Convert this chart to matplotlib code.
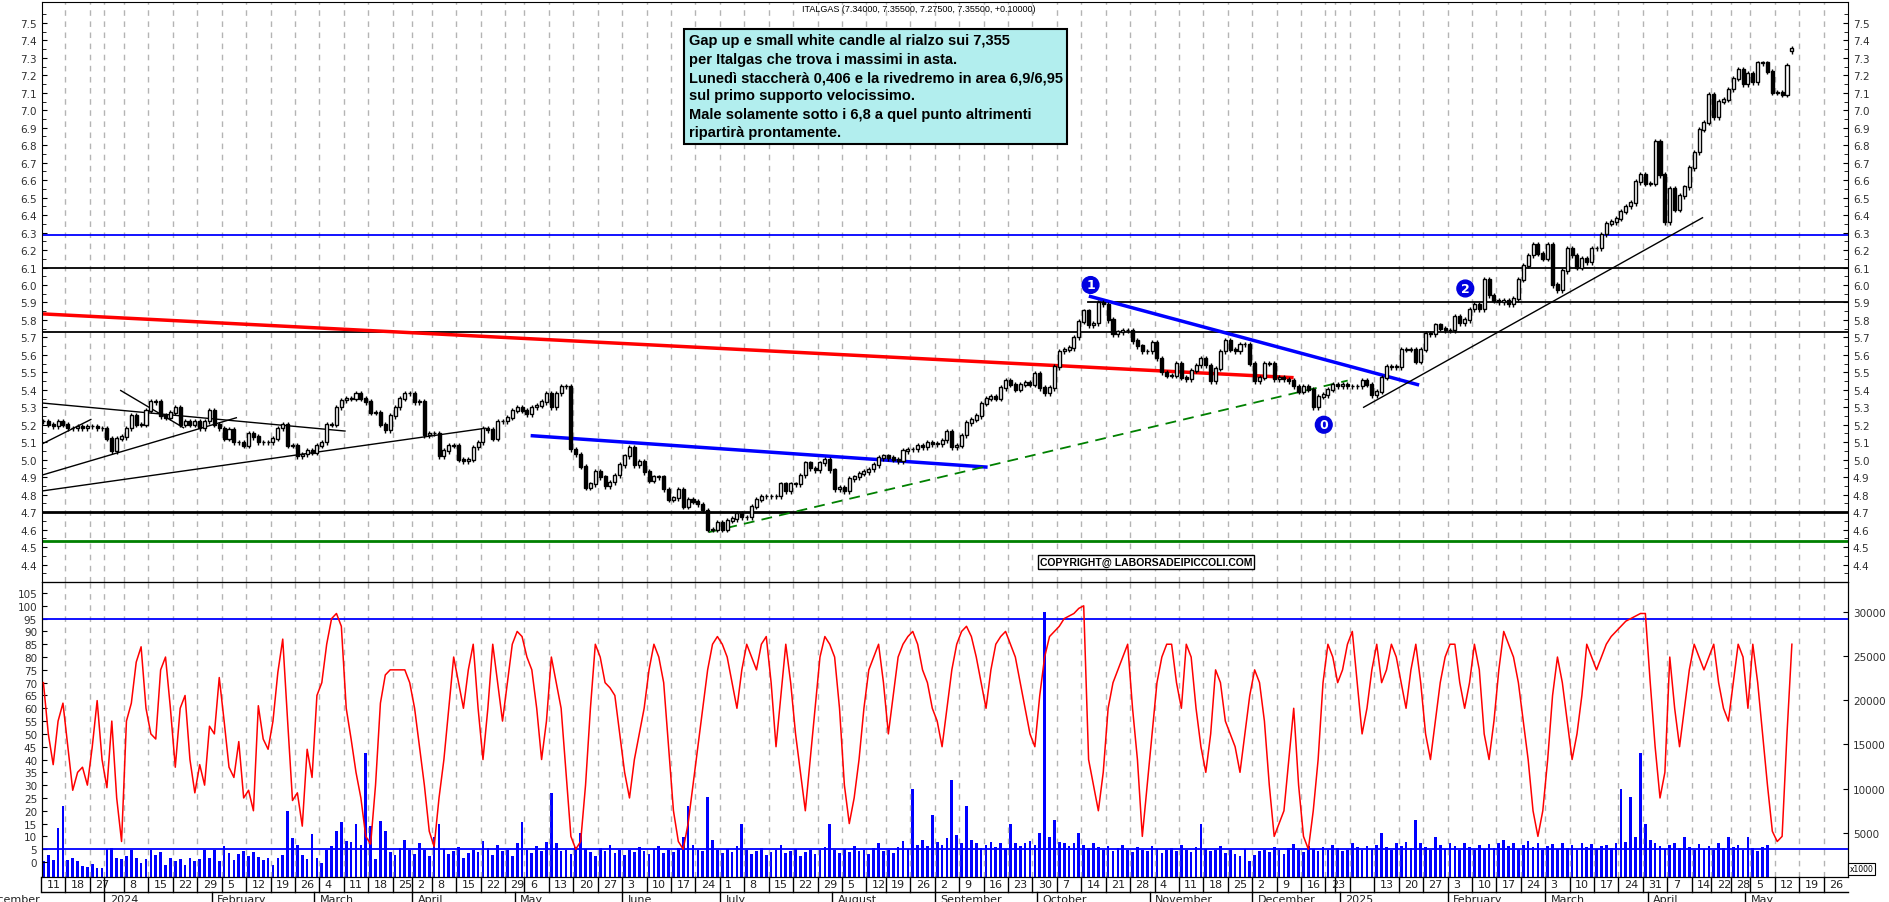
import numpy as np
import pandas as pd
import matplotlib
matplotlib.use('Agg')
import matplotlib.pyplot as plt

# ---- data ----
holidays = ['2023-12-25', '2023-12-26', '2024-01-01', '2024-03-29', '2024-04-01',
            '2024-05-01', '2024-08-15', '2024-12-24', '2024-12-25', '2024-12-26',
            '2024-12-31', '2025-01-01', '2025-04-18', '2025-04-21', '2025-05-01']

close_dec_apr = [5.22, 5.20, 5.19, 5.22, 5.20, 5.18, 5.18, 5.19, 5.18, 5.19,
                 5.19, 5.18, 5.18, 5.12, 5.05, 5.12, 5.13, 5.18, 5.25, 5.20,
                 5.20, 5.28, 5.33, 5.33, 5.25, 5.24, 5.27, 5.30, 5.20, 5.22,
                 5.20, 5.22, 5.18, 5.22, 5.28, 5.20, 5.18, 5.12, 5.17, 5.10,
                 5.10, 5.08, 5.15, 5.13, 5.10, 5.10, 5.10, 5.12, 5.18, 5.20,
                 5.08, 5.08, 5.02, 5.03, 5.05, 5.04, 5.08, 5.10, 5.20, 5.20,
                 5.30, 5.34, 5.35, 5.35, 5.38, 5.35, 5.33, 5.27, 5.27, 5.20,
                 5.17, 5.25, 5.30, 5.35, 5.38, 5.38, 5.33, 5.33, 5.14, 5.15,
                 5.15, 5.02, 5.05, 5.08, 5.08, 5.00, 4.99, 5.00, 5.07, 5.10,
                 5.18, 5.17, 5.12]
close_may = [5.22, 5.22, 5.24, 5.28, 5.30, 5.28, 5.26, 5.30, 5.31, 5.33,
             5.38, 5.30, 5.38, 5.42, 5.42]
close_jun_sep = [5.06, 5.03, 4.96, 4.84, 4.86, 4.93, 4.90, 4.85, 4.87, 4.91,
                 4.97, 5.02, 5.07, 4.97, 4.99, 4.93, 4.88, 4.90, 4.90, 4.83,
                 4.77, 4.78, 4.83, 4.73, 4.77, 4.76, 4.745, 4.71, 4.60, 4.60,
                 4.64, 4.60, 4.65, 4.66, 4.69, 4.67, 4.67, 4.73, 4.77, 4.79,
                 4.79, 4.79, 4.79, 4.86, 4.82, 4.86, 4.86, 4.91, 4.98, 4.95,
                 4.94, 4.98, 5.00, 4.94, 4.83, 4.84, 4.82, 4.89, 4.90, 4.92,
                 4.93, 4.945, 4.97, 5.01, 5.02, 5.01, 5.00, 4.99, 5.05, 5.06,
                 5.06, 5.08, 5.07, 5.10, 5.09, 5.09, 5.11, 5.16, 5.07, 5.08,
                 5.14, 5.21, 5.23, 5.25, 5.32, 5.35, 5.36, 5.35, 5.41, 5.45,
                 5.43, 5.40, 5.43, 5.44, 5.43, 5.49]
close_oct_jan = [5.41, 5.38, 5.41, 5.53, 5.62, 5.63, 5.64, 5.70, 5.79, 5.85,
                 5.77, 5.78, 5.90, 5.89, 5.80, 5.72, 5.73, 5.74, 5.74, 5.68,
                 5.65, 5.62, 5.62, 5.67, 5.58, 5.50, 5.48, 5.48, 5.55, 5.47,
                 5.46, 5.51, 5.54, 5.58, 5.54, 5.45, 5.52, 5.62, 5.68, 5.63,
                 5.62, 5.66, 5.66, 5.55, 5.45, 5.47, 5.55, 5.55, 5.46, 5.47,
                 5.46, 5.45, 5.42, 5.39, 5.42, 5.40, 5.30, 5.36, 5.37, 5.40,
                 5.43, 5.42, 5.43, 5.42, 5.42, 5.42, 5.45, 5.43, 5.37, 5.39,
                 5.47, 5.53, 5.53, 5.53, 5.63, 5.63, 5.63, 5.56, 5.63, 5.72,
                 5.72, 5.77, 5.75, 5.74, 5.74, 5.82]
close_feb_may = [5.78, 5.80, 5.86, 5.89, 5.86, 6.03, 5.94, 5.91, 5.90, 5.91,
                 5.89, 5.92, 6.03, 6.11, 6.17, 6.23, 6.18, 6.15, 6.23, 6.00,
                 5.97, 6.08, 6.21, 6.17, 6.10, 6.15, 6.13, 6.21, 6.21, 6.29,
                 6.35, 6.36, 6.38, 6.42, 6.45, 6.47, 6.59, 6.63, 6.58, 6.58,
                 6.82, 6.63, 6.36, 6.55, 6.43, 6.51, 6.56, 6.67, 6.76, 6.89,
                 6.93, 7.09, 6.96, 7.05, 7.06, 7.12, 7.18, 7.23, 7.15, 7.21,
                 7.16, 7.27, 7.27, 7.22, 7.10, 7.10, 7.09, 7.255, 7.355]

stoch_a = [70, 50, 38, 55, 62, 45, 28, 35, 37, 30, 45, 63, 40, 29, 55, 25, 8, 55, 62, 78,
           84, 60, 50, 48, 75, 80, 60, 37, 60, 65, 40, 27, 38, 30, 53, 50, 72, 55, 37, 33,
           47, 25, 28, 20, 61, 48, 44, 55, 74, 87, 55, 24, 27, 14, 44, 33, 65, 70, 85, 95,
           97, 92, 60, 48, 35, 25, 10, 7, 30, 62, 73, 75, 75]
stoch_b = [75, 75, 70, 60, 45, 30, 12, 6, 25, 40, 60, 80, 70, 60, 75,
           85, 60, 40, 60, 85, 70, 55, 70, 85, 90, 88, 80, 75, 60, 40,
           55, 80, 70, 60, 35, 10, 5, 8, 30, 60, 85, 80, 70, 68, 65,
           50, 35, 25, 40, 50, 60, 75, 85, 80, 70, 45, 20, 8, 5, 15,
           30, 45, 60, 75, 85, 88, 85, 80, 70, 60, 75, 85, 80, 75, 85,
           88, 70, 45, 65, 85, 70, 50, 35, 20, 40, 60, 80, 88, 85, 80,
           60, 30, 15, 25, 40, 60, 75, 80, 85, 70, 50, 65, 80, 85, 88,
           90, 85, 75, 70, 60, 55, 45, 60, 75, 85, 90, 92, 88, 80, 70,
           60, 75, 85, 88, 90, 85, 80, 70, 60, 50, 45, 65, 80, 88, 90,
           92, 95, 96, 97, 99, 100, 40, 30, 20, 35, 60, 70, 75, 80, 85,
           60, 40, 10, 30, 50, 70, 80, 85, 85, 70, 60, 85, 80, 60, 45,
           35, 50, 75, 70, 55]
stoch_c = [50, 45, 35, 50, 65, 75, 70, 55, 30, 10, 15, 20, 40, 60, 30, 10,
           5, 20, 40, 70, 85, 80, 70, 75, 85, 90, 70, 50, 60, 75, 85, 70,
           75, 85, 80, 70, 60, 75, 85, 70, 50, 40, 55, 70, 80, 85, 85, 70,
           60, 70, 85, 75, 50, 40, 55, 75, 90, 85, 80, 70, 55, 40, 20, 10,
           20, 40, 65, 80, 70, 55, 40, 50, 65, 85, 80, 75, 80, 85, 88, 90,
           92, 94, 95, 96, 97, 97, 70, 45, 25, 35, 80, 60, 45, 60, 75, 85,
           80, 75, 80, 85, 70, 60, 55, 70, 85, 80, 60, 85, 70, 50, 30, 12, 8, 10, 50, 85]

# volume in thousands
volume = [1.8, 2.5, 1.9, 5.5, 8.0, 1.9, 2.2, 1.8, 1.2, 1.1, 1.5, 1.0, 1.0, 3.2, 3.3, 2.2, 2.0, 2.4, 3.1, 2.1,
          1.6, 2.0, 3.1, 2.5, 2.8, 1.3, 2.1, 1.8, 2.0, 1.4, 2.2, 1.8, 2.0, 3.0, 2.2, 3.1, 1.8, 3.5, 2.7, 1.9,
          2.6, 2.9, 2.4, 2.8, 2.3, 1.9, 2.1, 1.4, 2.1, 2.5, 7.5, 4.4, 3.6, 2.5, 2.0, 4.9, 2.2, 1.6, 3.1, 3.5,
          5.2, 6.2, 4.1, 4.0, 6.0, 3.6, 14.0, 5.8, 2.0, 6.3, 5.2, 2.8, 2.5, 3.3, 4.2, 3.1, 2.6, 3.9, 3.0, 2.4,
          4.5, 6.0, 3.2, 2.6, 2.9, 3.4, 2.2, 2.7, 3.0, 2.8, 4.1, 3.3, 2.5, 3.6, 2.9, 3.1, 2.4, 3.8, 6.2, 3.0,
          2.7, 3.5, 2.9, 4.0, 9.5, 3.8, 2.9, 3.1, 2.6, 3.4, 5.0, 3.2, 2.8, 2.4, 3.3, 2.9, 3.6, 2.7, 3.0, 2.5,
          3.1, 2.8, 3.4, 2.9, 2.6, 3.2, 3.5, 2.7, 3.0, 2.8, 3.3, 4.5, 8.0, 3.6, 3.1, 2.9, 9.0, 4.2, 3.0, 2.7,
          3.2, 2.8, 3.5, 6.0, 3.1, 2.6, 2.9, 3.3, 2.5, 2.8, 3.0, 3.6, 2.7, 2.9, 3.2, 2.4, 2.8, 3.1, 2.6, 3.0,
          3.4, 6.0, 3.0, 2.7, 3.2, 2.8, 3.5, 2.9, 3.1, 2.6, 3.3, 3.8, 2.9, 3.1, 2.7, 3.4, 4.1, 3.2, 10.0, 3.6,
          4.2, 3.5, 7.0, 4.0, 3.6, 4.4, 11.0, 4.8, 3.9, 8.0, 4.2, 3.8, 3.3, 3.6, 4.0, 3.4, 3.8, 3.2, 6.0, 3.9,
          3.5, 3.9, 4.1, 3.6, 5.0, 30.0, 4.5, 6.5, 4.0, 3.8, 3.5, 3.9, 5.0, 3.6, 3.3, 3.8, 3.4, 3.1, 3.5, 2.9,
          3.3, 3.6, 3.0, 2.8, 3.4, 3.1, 2.9, 3.5, 3.2, 2.7, 3.0, 3.3, 2.9, 3.6, 3.1, 2.8, 3.4, 6.0, 3.2, 2.9,
          3.0, 3.5, 2.7, 3.1, 2.6, 2.4, 3.2, 1.8, 2.5, 2.9, 3.1, 2.8, 3.4, 3.0, 2.6, 3.3, 3.7, 3.1, 2.8, 3.5,
          3.2, 2.9, 3.4, 3.0, 3.6, 3.3, 2.9, 3.1, 3.8, 3.4, 3.0, 3.5, 3.2, 3.6, 5.0, 3.4, 3.1, 3.8, 3.5, 4.0,
          3.3, 6.5, 3.9, 3.4, 3.1, 4.5, 3.6, 3.2, 3.8, 3.5, 3.1, 3.9, 3.4, 3.0, 3.6, 3.2, 3.7, 3.3, 3.9, 4.2,
          3.5, 3.8, 3.2, 3.6, 4.1, 3.4, 3.9, 3.0, 3.5, 3.7, 3.2, 3.8, 3.3, 3.6, 3.1, 3.9, 3.4, 3.7, 3.2, 3.5,
          3.6, 3.3, 3.8, 10.0, 4.0, 9.0, 4.5, 14.0, 6.0, 4.2, 3.8, 3.5, 3.2, 3.6, 3.9, 3.3, 4.5, 3.4, 3.1, 3.7,
          3.2, 3.5, 3.0, 3.8, 3.3, 4.5, 3.4, 3.6, 3.1, 4.5, 3.3, 2.9, 3.4, 3.6]

price_levels = [(6.285, 'blue', 1.3), (6.10, 'black', 1.3), (5.73, 'black', 1.3),
                (4.70, 'black', 2.0), (4.535, 'green', 2.0)]

note = ("Gap up e small white candle al rialzo sui 7,355\n"
        "per Italgas che trova i massimi in asta.\n"
        "Lunedì staccherà 0,406 e la rivedremo in area 6,9/6,95\n"
        "sul primo supporto velocissimo.\n"
        "Male solamente sotto i 6,8 a quel punto altrimenti\n"
        "ripartirà prontamente.")

months_en = ['January', 'February', 'March', 'April', 'May', 'June', 'July',
             'August', 'September', 'October', 'November', 'December']


def px2day(xpx):
    # pixel column of the reference -> trading-day index
    return (xpx - 42) / 4.9 - 0.5


def main():
    close = np.array(close_dec_apr + close_may + close_jun_sep + close_oct_jan + close_feb_may)
    stoch = np.array(stoch_a + stoch_b + stoch_c)
    vol = np.array(volume)
    n = len(close)
    idx = np.arange(n)
    opn = np.concatenate([[close[0]], close[:-1]])
    opn[-1] = 7.34
    hi = np.maximum(opn, close) + 0.015
    lo = np.minimum(opn, close) - 0.015

    dates = pd.bdate_range('2023-12-11', '2025-05-30', freq='C', holidays=holidays)
    nd = len(dates)

    fig = plt.figure(figsize=(18.9, 9.03), dpi=100)
    ax = fig.add_axes([0.0222, 0.3544, 0.9556, 0.6423])
    ax2 = fig.add_axes([0.0222, 0.0277, 0.9556, 0.3267])
    axv = ax2.twinx()

    # week gridlines
    wk = pd.Series(dates.isocalendar().week.values)
    week_start = [i for i in range(nd) if i == 0 or wk[i] != wk[i - 1]]
    for a in (ax, ax2):
        for i in week_start:
            a.axvline(i - 0.5, color='#b4b4b4', ls=(0, (4, 4)), lw=1, zorder=0)

    # candles
    up = close >= opn
    ax.vlines(idx, lo, hi, color='black', lw=1, zorder=3)
    ax.bar(idx[up], (close - opn)[up] + 0.004, bottom=opn[up], width=0.62,
           color='white', edgecolor='black', lw=1, zorder=4)
    ax.bar(idx[~up], (opn - close)[~up] + 0.004, bottom=close[~up], width=0.62,
           color='black', edgecolor='black', lw=1, zorder=4)

    for y, c, w in price_levels:
        ax.axhline(y, color=c, lw=w, zorder=2)
    ax.plot([px2day(1092), nd], [5.905, 5.905], color='black', lw=1.3, zorder=2)

    # trendlines
    ax.plot([px2day(42), px2day(1297)], [5.835, 5.47], color='red', lw=2.5, zorder=2)
    ax.plot([px2day(535), px2day(990)], [5.137, 4.958], color='blue', lw=2.5, zorder=2)
    ax.plot([px2day(1095), px2day(1423)], [5.934, 5.43], color='blue', lw=2.5, zorder=2)
    ax.plot([px2day(712), px2day(1353)], [4.585, 5.453], color='green', lw=1.3,
            ls=(0, (6, 4)), zorder=2)
    ax.plot([px2day(1369), px2day(1709)], [5.30, 6.385], color='black', lw=1, zorder=2)
    ax.plot([px2day(42), px2day(347)], [5.325, 5.164], color='black', lw=1, zorder=2)
    ax.plot([px2day(42), px2day(92)], [5.087, 5.23], color='black', lw=1, zorder=2)
    ax.plot([px2day(122), px2day(185)], [5.396, 5.183], color='black', lw=1, zorder=2)
    ax.plot([px2day(42), px2day(238)], [4.91, 5.24], color='black', lw=1, zorder=2)
    ax.plot([px2day(42), px2day(488)], [4.82, 5.18], color='black', lw=1, zorder=2)

    for xpx, yv, lab in [(1095, 6.0, '1'), (1329, 5.20, '0'), (1471, 5.98, '2')]:
        ax.text(px2day(xpx), yv, lab, color='white', fontsize=9, fontweight='bold',
                ha='center', va='center', zorder=6,
                bbox=dict(boxstyle='circle,pad=0.15', fc='#0000e0', ec='#0000e0'))

    ax.text(0.358, 0.946, note, transform=ax.transAxes, ha='left', va='top',
            fontsize=10.5, fontweight='bold', family='Liberation Sans', linespacing=1.4,
            zorder=7, bbox=dict(boxstyle='square,pad=0.3', fc='#b2eeee', ec='black', lw=1.5))
    ax.text(0.5525, 0.0345, 'COPYRIGHT@ LABORSADEIPICCOLI.COM', transform=ax.transAxes,
            fontsize=7.5, fontweight='bold', family='Liberation Sans', ha='left', va='center',
            zorder=7, bbox=dict(boxstyle='square,pad=0.2', fc='white', ec='black', lw=1))
    fig.text(0.486, 0.99, 'ITALGAS (7.34000, 7.35500, 7.27500, 7.35500, +0.10000)',
             fontsize=6.5, ha='center', va='center', family='Liberation Sans')

    ax.set_ylim(4.31, 7.62)
    ax.set_yticks(np.arange(4.4, 7.55, 0.1))
    ax.set_yticks(np.arange(4.3, 7.6, 0.05), minor=True)
    ax.yaxis.set_major_formatter(matplotlib.ticker.FormatStrFormatter('%.1f'))
    ax.tick_params(axis='y', which='both', left=True, right=True, labelleft=True,
                   labelright=True, labelsize=7.5, labelcolor='#303030', direction='in')
    ax.tick_params(axis='y', which='minor', length=3)
    ax.set_xticks([])

    # lower panel
    axv.bar(np.arange(len(vol)), vol * 1000, width=0.55, color='blue', zorder=2)
    axv.set_ylim(0, 33370)
    axv.set_yticks(np.arange(5, 31, 5) * 1000)
    axv.set_yticklabels([str(v * 1000) for v in range(5, 31, 5)])
    axv.tick_params(axis='y', labelsize=7.5, labelcolor='#303030', direction='in')
    ax2.set_zorder(axv.get_zorder() + 1)
    ax2.patch.set_visible(False)
    ax2.plot(np.arange(len(stoch)), stoch, color='red', lw=1.1, zorder=3)
    ax2.axhline(95, color='blue', lw=1.3)
    ax2.axhline(5, color='blue', lw=1.3)
    ax2.set_ylim(-5.85, 109.3)
    ax2.set_yticks(np.arange(0, 106, 5))
    ax2.tick_params(axis='y', labelsize=7.5, labelcolor='#303030', direction='in')
    axv.text(1.001, 0.02, 'x1000', transform=axv.transAxes, fontsize=5.5,
             bbox=dict(boxstyle='square,pad=0.2', fc='white', ec='black', lw=0.8))

    for a in (ax, ax2, axv):
        a.set_xlim(-0.3, nd - 0.5)
    ax2.set_xticks([])

    # date rows
    tr = ax2.get_xaxis_transform()
    ax2.plot([-0.3, nd - 0.5], [-0.05, -0.05], color='black', lw=1, transform=tr, clip_on=False)
    last_lab = -10
    for i in week_start:
        ax2.plot([i - 0.5, i - 0.5], [0, -0.05], color='black', lw=1, transform=tr, clip_on=False)
        first_of_year = dates[i].month == 1 and dates[i].day <= 7
        if not first_of_year and i - last_lab >= 3:
            ax2.text(i + 0.6, -0.025, str(dates[i].day), transform=tr, fontsize=8,
                     ha='left', va='center', color='#202020')
            last_lab = i
    month_start = [i for i in range(nd) if i == 0 or dates[i].month != dates[i - 1].month]
    for i in month_start:
        if i == 0:
            continue
        ax2.plot([i - 0.5, i - 0.5], [-0.05, -0.1], color='black', lw=1, transform=tr, clip_on=False)
        lab = str(dates[i].year) if dates[i].month == 1 else months_en[dates[i].month - 1]
        ax2.text(i + 0.6, -0.058, lab, transform=tr, fontsize=8, ha='left', va='top',
                 color='#202020')
    ax2.text(-0.5, -0.058, 'December', transform=tr, fontsize=8, ha='right', va='top',
             color='#202020')

    fig.savefig('out.png', dpi=100)
    plt.close(fig)


if __name__ == '__main__':
    main()
